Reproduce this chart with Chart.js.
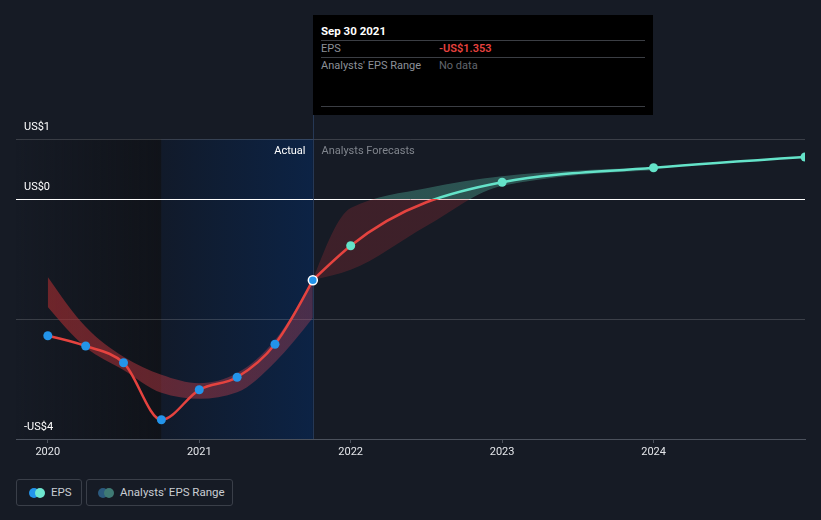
<!DOCTYPE html>
<html>
<head>
<meta charset="utf-8">
<script src="https://cdn.jsdelivr.net/npm/chart.js@4"></script>
<style>
  html, body { margin: 0; padding: 0; background: #161b25; }
  body { width: 821px; height: 520px; position: relative; overflow: hidden; font-family: Roboto, 'Noto Sans', sans-serif; }
  #wrap { position: absolute; left: 0; top: 0; width: 821px; height: 470px; }
  #tip { position: absolute; left: 313px; top: 15px; width: 340px; height: 100px; background: #000; box-sizing: border-box; padding: 8px 8px 0 8px; font-size: 11px; }
  #tip .title { color: #fff; font-weight: bold; font-size: 11.5px; line-height: 16px; height: 17px; border-bottom: 1px solid #3b3e44; }
  #tip .row { display: flex; line-height: 16px; color: #8c9098; border-bottom: 1px solid #3b3e44; }
  #tip .row .k { width: 118px; }
  #tip .row .v { color: #62666e; }
  #tip .row .v.red { color: #e8423f; font-weight: 600; }
  .legend { position: absolute; top: 479px; height: 27px; box-sizing: border-box; border: 1px solid #3a3f49; border-radius: 3px; font-size: 11.5px; color: #c9cdd3; line-height: 25px; }
  .legend .dot { position: absolute; top: 8px; width: 10px; height: 10px; border-radius: 50%; }
  .legend span.txt { position: absolute; top: 0; }
</style>
</head>
<body>
<div id="wrap"><canvas id="epsChart"></canvas></div>

<div id="tip">
  <div class="title">Sep 30 2021</div>
  <div class="row"><span class="k">EPS</span><span class="v red">-US$1.353</span></div>
  <div class="row" style="height:48px;"><span class="k">Analysts' EPS Range</span><span class="v">No data</span></div>
</div>

<div class="legend" style="left:16px;width:66px;">
  <div class="dot" style="left:12px;background:#2394ea;"></div>
  <div class="dot" style="left:18px;background:#6ee7d0;"></div>
  <span class="txt" style="left:34px;">EPS</span>
</div>
<div class="legend" style="left:86px;width:147px;">
  <div class="dot" style="left:11px;background:#2b5a7e;"></div>
  <div class="dot" style="left:17px;background:#3f7a74;"></div>
  <span class="txt" style="left:33px;">Analysts' EPS Range</span>
</div>

<script>
// ── Data (decimal years) ──────────────────────────────────────
const actualDates   = [2020.0, 2020.25, 2020.5, 2020.75, 2021.0, 2021.25, 2021.5, 2021.75];
const actualEps     = [-2.28, -2.45, -2.73, -3.68, -3.18, -2.97, -2.42, -1.353];
const pastRangeHigh = [-1.30, -2.13, -2.63, -2.93, -3.07, -2.90, -2.35, -1.35];
const pastRangeLow  = [-1.80, -2.47, -2.85, -3.23, -3.33, -3.22, -2.72, -1.98];

const forecastDates = [2021.75, 2022.0, 2023.0, 2024.0, 2025.0];
const forecastEps   = [-1.353, -0.78, 0.28, 0.52, 0.70];

const rangeDates    = [2021.75, 2022.0, 2022.5, 2023.0, 2024.0];
const rangeHigh     = [-1.35, -0.15, 0.18, 0.38, 0.52];
const rangeLow      = [-1.35, -1.18, -0.45, 0.22, 0.48];

const yearTicks  = [2020, 2021, 2022, 2023, 2024];
const valueTicks = [-4, -2, 0, 1];
const valueLabels = { '1': 'US$1', '0': 'US$0', '-4': '-US$4' };

const xMin = 2019.79, xMax = 2025.0;
const shadeStart = 2020.75;   // start of the last-year highlight
const actualEnd  = 2021.75;   // Sep 30 2021

const RED  = '#e5433f';
const TEAL = '#64e3c9';
const BLUE = '#2394ea';

const pts = (xs, ys) => xs.map((x, i) => ({ x, y: ys[i] }));

// colour split at the zero line
function splitGradient(chart, above, below) {
    const { ctx, chartArea, scales } = chart;
    if (!chartArea) return below;
    const y0 = scales.y.getPixelForValue(0);
    const t  = Math.min(1, Math.max(0, (y0 - chartArea.top) / (chartArea.bottom - chartArea.top)));
    const g  = ctx.createLinearGradient(0, chartArea.top, 0, chartArea.bottom);
    g.addColorStop(0, above); g.addColorStop(t, above);
    g.addColorStop(t, below); g.addColorStop(1, below);
    return g;
}

function pastBandFill(chart) {
    const { ctx, chartArea, scales } = chart;
    if (!chartArea) return 'rgba(190,55,60,0.4)';
    const g = ctx.createLinearGradient(scales.x.getPixelForValue(2020), 0, scales.x.getPixelForValue(actualEnd), 0);
    g.addColorStop(0, 'rgba(170,45,48,0.6)');
    g.addColorStop(1, 'rgba(200,70,90,0.32)');
    return g;
}

// monotone-x curve (same tangents as d3.curveMonotoneX) on the library's point pixels
function monotoneCps(points) {
    const n = points.length;
    if (n < 3) return;
    const h = [], s = [], t = [];
    for (let i = 0; i < n - 1; i++) {
        h[i] = points[i + 1].x - points[i].x;
        s[i] = h[i] ? (points[i + 1].y - points[i].y) / h[i] : 0;
    }
    for (let i = 1; i < n - 1; i++) {
        const p = (s[i - 1] * h[i] + s[i] * h[i - 1]) / (h[i - 1] + h[i]);
        t[i] = (Math.sign(s[i - 1]) + Math.sign(s[i])) *
               Math.min(Math.abs(s[i - 1]), Math.abs(s[i]), 0.5 * Math.abs(p)) || 0;
    }
    t[0] = (3 * s[0] - t[1]) / 2;
    t[n - 1] = (3 * s[n - 2] - t[n - 2]) / 2;
    points.forEach((pt, i) => {
        if (i > 0)     { const dx = h[i - 1] / 3; pt.cp1x = pt.x - dx; pt.cp1y = pt.y - dx * t[i]; }
        if (i < n - 1) { const dx = h[i] / 3;     pt.cp2x = pt.x + dx; pt.cp2y = pt.y + dx * t[i]; }
    });
}

// ── Background zones, hover line, section labels ─────────────
const decorPlugin = {
    id: 'decor',
    beforeDraw(chart) {
        const { ctx, chartArea: a, scales: { x } } = chart;
        const x1 = x.getPixelForValue(shadeStart);
        const x2 = x.getPixelForValue(actualEnd);
        ctx.save();
        let g = ctx.createLinearGradient(a.left, 0, x1, 0);
        g.addColorStop(0, 'rgba(14,16,21,0)');
        g.addColorStop(1, 'rgba(14,16,21,0.7)');
        ctx.fillStyle = g;
        ctx.fillRect(a.left, a.top, x1 - a.left, a.bottom - a.top);
        g = ctx.createLinearGradient(x1, 0, x2, 0);
        g.addColorStop(0, '#111a2a');
        g.addColorStop(1, '#0c2345');
        ctx.fillStyle = g;
        ctx.fillRect(x1, a.top, x2 - x1, a.bottom - a.top);
        ctx.restore();
    },
    beforeDatasetsDraw(chart) {
        const { ctx, chartArea: a, scales: { x } } = chart;
        chart.getSortedVisibleDatasetMetas().forEach(meta => {
            meta.dataset.updateControlPoints(a, 'x');
            monotoneCps(meta.data);
        });
        const x2 = Math.round(x.getPixelForValue(actualEnd)) + 0.5;
        ctx.save();
        ctx.strokeStyle = 'rgba(45,68,105,0.7)';
        ctx.lineWidth = 1;
        ctx.beginPath();
        ctx.moveTo(x2, 15);
        ctx.lineTo(x2, a.bottom);
        ctx.stroke();
        ctx.font = '11px Roboto';
        ctx.textBaseline = 'middle';
        ctx.textAlign = 'right';
        ctx.fillStyle = '#ffffff';
        ctx.fillText('Actual', x2 - 8, a.top + 12);
        ctx.textAlign = 'left';
        ctx.fillStyle = '#80858d';
        ctx.fillText('Analysts Forecasts', x2 + 8, a.top + 12);
        ctx.restore();
    }
};

// ── Chart init ────────────────────────────────────────────────
const epsChart = new Chart(document.getElementById('epsChart'), {
    type: 'line',
    data: {
        datasets: [
            {
                label: 'EPS',
                data: pts(actualDates, actualEps),
                order: 0,
                borderColor: RED,
                borderWidth: 2.5,
                cubicInterpolationMode: 'monotone',
                pointRadius: 4.5,
                pointHoverRadius: 4.5,
                pointBackgroundColor: BLUE,
                pointBorderColor: actualDates.map((d, i) => i === actualDates.length - 1 ? '#ffffff' : BLUE),
                pointBorderWidth: actualDates.map((d, i) => i === actualDates.length - 1 ? 1.5 : 0),
                fill: false
            },
            {
                label: 'EPS forecast',
                data: pts(forecastDates, forecastEps),
                order: 1,
                borderColor: c => splitGradient(c.chart, TEAL, RED),
                borderWidth: 2.5,
                cubicInterpolationMode: 'monotone',
                pointRadius: forecastDates.map((d, i) => i === 0 ? 0 : 4.5),
                pointBackgroundColor: TEAL,
                pointBorderColor: TEAL,
                pointBorderWidth: 0,
                fill: false
            },
            {
                label: 'Past range high',
                data: pts(actualDates, pastRangeHigh),
                order: 2,
                borderWidth: 0,
                pointRadius: 0,
                cubicInterpolationMode: 'monotone',
                backgroundColor: c => pastBandFill(c.chart),
                fill: '+1'
            },
            {
                label: 'Past range low',
                data: pts(actualDates, pastRangeLow),
                order: 3,
                borderWidth: 0,
                pointRadius: 0,
                cubicInterpolationMode: 'monotone',
                fill: false
            },
            {
                label: "Analysts' EPS Range high",
                data: pts(rangeDates, rangeHigh),
                order: 4,
                borderWidth: 0,
                pointRadius: 0,
                cubicInterpolationMode: 'monotone',
                backgroundColor: c => splitGradient(c.chart, 'rgba(80,175,155,0.38)', 'rgba(190,50,55,0.24)'),
                fill: '+1'
            },
            {
                label: "Analysts' EPS Range low",
                data: pts(rangeDates, rangeLow),
                order: 5,
                borderWidth: 0,
                pointRadius: 0,
                cubicInterpolationMode: 'monotone',
                fill: false
            }
        ]
    },
    options: {
        responsive: true,
        maintainAspectRatio: false,
        animation: false,
        events: [],
        layout: { padding: { top: 139, left: 16, right: 16, bottom: 0 } },
        plugins: { legend: { display: false }, tooltip: { enabled: false } },
        scales: {
            x: {
                type: 'linear',
                min: xMin,
                max: xMax,
                afterBuildTicks: s => { s.ticks = yearTicks.map(v => ({ value: v })); },
                afterFit: s => { s.height = 31; },
                ticks: {
                    color: '#e4e6ea',
                    font: { family: 'Roboto', size: 11 },
                    padding: 3,
                    maxRotation: 0,
                    callback: v => String(v)
                },
                grid: { drawOnChartArea: false, drawTicks: true, tickLength: 4, color: '#4b515c' },
                border: { color: '#4b515c' }
            },
            y: {
                min: -4,
                max: 1,
                afterBuildTicks: s => { s.ticks = valueTicks.map(v => ({ value: v })); },
                afterFit: s => { s.width = 0; },
                ticks: {
                    mirror: true,
                    padding: 8,
                    labelOffset: -12,
                    color: '#ffffff',
                    font: { family: 'Roboto', size: 11 },
                    callback: v => valueLabels[String(v)] || ''
                },
                grid: {
                    drawTicks: false,
                    color: c => c.tick && c.tick.value === 0 ? '#ffffff' : 'rgba(255,255,255,0.16)',
                    lineWidth: 1
                },
                border: { display: false }
            }
        }
    },
    plugins: [decorPlugin]
});
</script>
</body>
</html>
